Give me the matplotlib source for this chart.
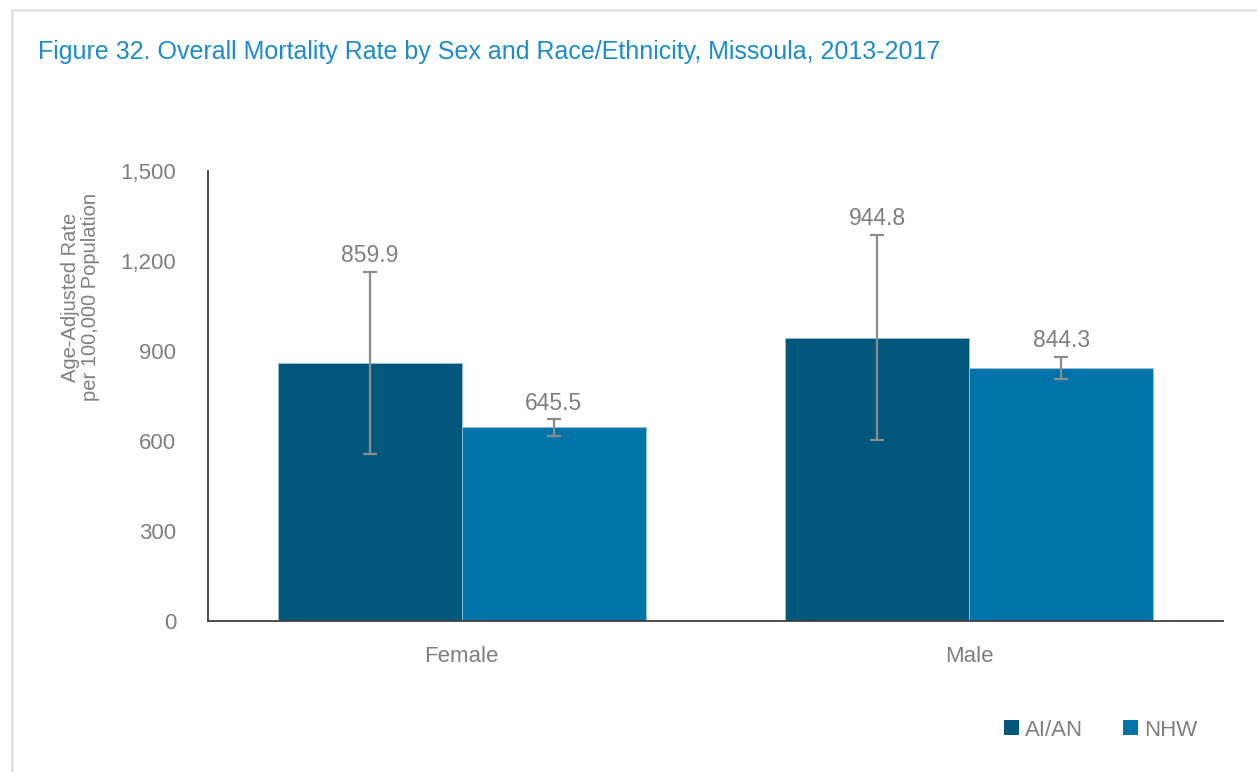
import matplotlib
matplotlib.use("Agg")
import matplotlib.pyplot as plt
from matplotlib import font_manager
from matplotlib.patches import Rectangle
import numpy as np

# Data
categories = ["Female", "Male"]
groups = ["AI/AN", "NHW"]
rates_aian = [859.9, 944.8]
rates_nhw = [645.5, 844.3]
ci_low_aian = [557, 603]
ci_high_aian = [1164, 1287]
ci_low_nhw = [617, 807]
ci_high_nhw = [673, 881]
yticks = [0, 300, 600, 900, 1200, 1500]

colors = ["#02587C", "#0073A8"]
title_color = "#1C8CCB"
gray = "#7F7F7F"

# Pick a narrow font if available
names = {f.name for f in font_manager.fontManager.ttflist}
family = "Liberation Sans Narrow" if "Liberation Sans Narrow" in names else "Liberation Sans"
plt.rcParams["font.family"] = [family, "DejaVu Sans"]

fig = plt.figure(figsize=(12.57, 7.72), dpi=100)
ax = fig.add_axes([208 / 1257, 1 - 621 / 772, 1015 / 1257, 450 / 772])

# light frame around the figure
fig.patches.append(Rectangle((12 / 1257, -0.1), 1.1, 1.1 - 10 / 772, transform=fig.transFigure,
                             fill=False, edgecolor="#E3E3E3", linewidth=2))

x = np.arange(len(categories))
w = 0.363
series = [
    (rates_aian, ci_low_aian, ci_high_aian),
    (rates_nhw, ci_low_nhw, ci_high_nhw),
]
for i, (vals, lo, hi) in enumerate(series):
    pos = x + (i - 0.5) * w
    ax.bar(pos, vals, w, color=colors[i], edgecolor="#9CC3D9", linewidth=0.6, label=groups[i], zorder=2)
    yerr = [np.array(vals) - np.array(lo), np.array(hi) - np.array(vals)]
    ax.errorbar(pos, vals, yerr=yerr, fmt="none", ecolor="#8C8C8C", elinewidth=1.6,
                capsize=5, capthick=1.6, zorder=3)
    for p, v, h in zip(pos, vals, hi):
        ax.text(p, h + 32, f"{v:.1f}", ha="center", va="baseline", fontsize=16.5, color=gray)

ax.set_xlim(-0.5, 1.5)
ax.set_ylim(0, 1500)
ax.set_yticks(yticks)
ax.set_yticklabels([f"{t:,}" for t in yticks])
ax.set_xticks(x)
ax.set_xticklabels(categories)
ax.tick_params(axis="both", length=0, labelsize=16, labelcolor=gray)
ax.tick_params(axis="y", pad=23)
ax.tick_params(axis="x", pad=18)
for s in ["top", "right"]:
    ax.spines[s].set_visible(False)
for s in ["left", "bottom"]:
    ax.spines[s].set_color("#404040")
    ax.spines[s].set_linewidth(1.3)

ax.set_ylabel("Age-Adjusted Rate\nper 100,000 Population", fontsize=14.5, color=gray,
              linespacing=1.1)
ax.yaxis.set_label_coords(-0.106, 0.72)

fig.text(38 / 1257, 1 - 52 / 772, "Figure 32. Overall Mortality Rate by Sex and Race/Ethnicity, Missoula, 2013-2017",
         fontsize=18, color=title_color, va="center", ha="left")

leg = fig.legend(handles=ax.patches[:1] + ax.patches[2:3], labels=groups, loc="center left",
                 bbox_to_anchor=(993 / 1257, 1 - 730 / 772), ncol=2, frameon=False, fontsize=16,
                 handlelength=0.65, handleheight=0.65, handletextpad=0.3, columnspacing=1.8,
                 borderpad=0, labelcolor=gray)
for h in leg.legend_handles:
    h.set_edgecolor("none")

fig.savefig("out.png", dpi=100)
